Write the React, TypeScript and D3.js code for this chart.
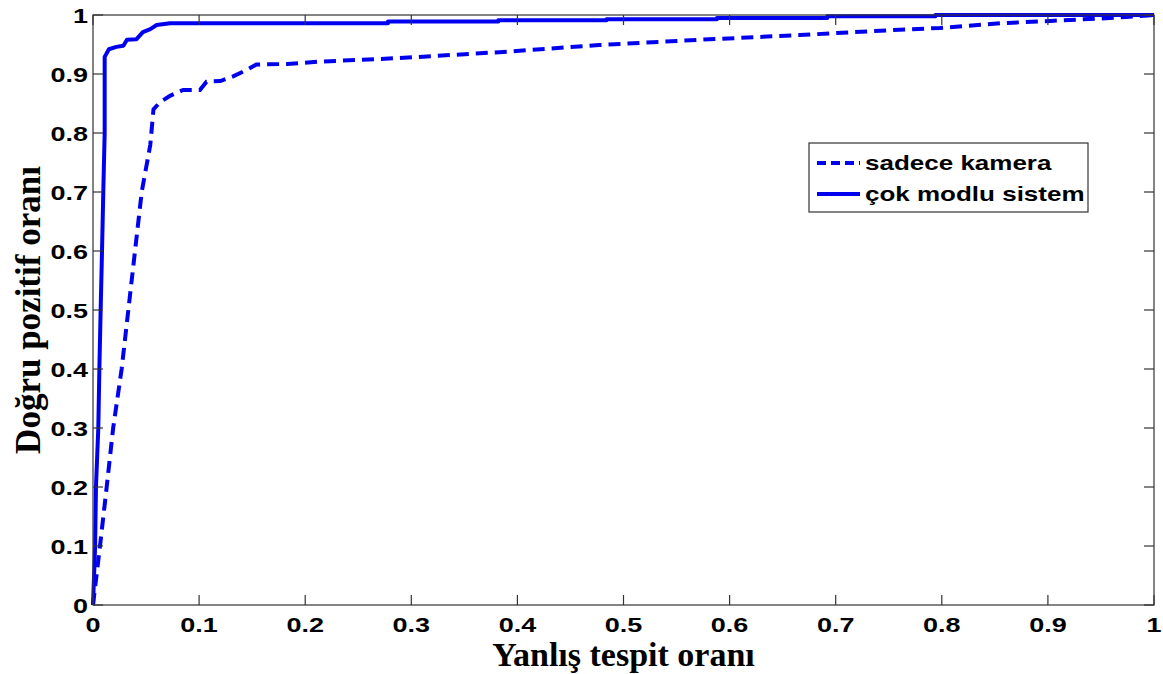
import React from "react";
import * as d3 from "d3";

// ROC curves: false positive rate (x) vs true positive rate (y)
const cameraOnlyFpr = [0, 0.0066, 0.0129, 0.019, 0.027, 0.0333, 0.0396, 0.0459, 0.052, 0.054, 0.057, 0.063, 0.0726, 0.085, 0.1008, 0.107, 0.12, 0.132, 0.145, 0.154, 0.183, 0.214, 0.289, 0.336, 0.383, 0.477, 0.572, 0.666, 0.76, 0.798, 0.855, 0.902, 0.949, 0.977, 1];
const cameraOnlyTpr = [0, 0.1, 0.2, 0.3, 0.4, 0.5, 0.6, 0.7, 0.76, 0.78, 0.84, 0.852, 0.863, 0.873, 0.873, 0.887, 0.888, 0.896, 0.907, 0.916, 0.917, 0.921, 0.927, 0.932, 0.937, 0.949, 0.958, 0.966, 0.975, 0.978, 0.986, 0.99, 0.994, 0.997, 1];

const multiModalFpr = [0, 0.001, 0.002, 0.0028, 0.005, 0.006, 0.0072, 0.0085, 0.0097, 0.011, 0.011, 0.015, 0.022, 0.0286, 0.032, 0.041, 0.047, 0.054, 0.06, 0.0726, 0.278, 0.278, 0.382, 0.382, 0.484, 0.484, 0.588, 0.588, 0.692, 0.692, 0.794, 0.794, 1];
const multiModalTpr = [0, 0.05, 0.1, 0.2, 0.3, 0.4, 0.5, 0.6, 0.7, 0.8, 0.929, 0.942, 0.946, 0.948, 0.958, 0.959, 0.971, 0.976, 0.983, 0.986, 0.986, 0.989, 0.989, 0.991, 0.991, 0.993, 0.993, 0.995, 0.995, 0.998, 0.998, 1, 1];

const tickValues = [0, 0.1, 0.2, 0.3, 0.4, 0.5, 0.6, 0.7, 0.8, 0.9, 1];

const legendLabels = ["sadece kamera", "çok modlu sistem"];
const xTitle = "Yanlış tespit oranı";
const yTitle = "Doğru pozitif oranı";

const W = 1163;
const H = 674;
const left = 93;
const right = 1154;
const top = 15;
const bottom = 605;
const blue = "#0000f0";
const axisColor = "#333";
const tickFont = "'Liberation Sans', Arial, sans-serif";
const titleFont = "'Liberation Serif', 'Times New Roman', serif";
const wide = 1.35; // horizontal stretch of the sans-serif labels

export default function App() {
  const x = d3.scaleLinear().domain([0, 1]).range([left, right]);
  const y = d3.scaleLinear().domain([0, 1]).range([bottom, top]);

  const line = d3
    .line<[number, number]>()
    .x((d) => x(d[0]))
    .y((d) => y(d[1]));

  const cameraPts = cameraOnlyFpr.map((v, i) => [v, cameraOnlyTpr[i]] as [number, number]);
  const multiPts = multiModalFpr.map((v, i) => [v, multiModalTpr[i]] as [number, number]);

  const tickLen = 10;
  const fmt = d3.format("");

  return (
    <svg
      width={W}
      height={H}
      style={{ position: "absolute", left: 0, top: 0, background: "#fff" }}
    >
      <rect x={0} y={0} width={W} height={H} fill="#fff" />

      {/* curves */}
      <path d={line(cameraPts) || ""} fill="none" stroke={blue} strokeWidth={4} strokeDasharray="12 7" />
      <path d={line(multiPts) || ""} fill="none" stroke={blue} strokeWidth={4} strokeLinejoin="round" />

      {/* axes box */}
      <rect x={left} y={top} width={right - left} height={bottom - top} fill="none" stroke={axisColor} strokeWidth={1.2} />

      {tickValues.map((t) => (
        <g key={"x" + t}>
          <line x1={x(t)} x2={x(t)} y1={bottom} y2={bottom - tickLen} stroke={axisColor} strokeWidth={1.2} />
          <line x1={x(t)} x2={x(t)} y1={top} y2={top + tickLen} stroke={axisColor} strokeWidth={1.2} />
          <text
            transform={`translate(${x(t)}, ${bottom + 27}) scale(${wide}, 1)`}
            textAnchor="middle"
            fontFamily={tickFont}
            fontWeight="bold"
            fontSize={20}
            fill="#000"
          >
            {fmt(t)}
          </text>
        </g>
      ))}

      {tickValues.map((t) => (
        <g key={"y" + t}>
          <line x1={left} x2={left + tickLen} y1={y(t)} y2={y(t)} stroke={axisColor} strokeWidth={1.2} />
          <line x1={right} x2={right - tickLen} y1={y(t)} y2={y(t)} stroke={axisColor} strokeWidth={1.2} />
          <text
            transform={`translate(${left - 5}, ${y(t) + 7.5}) scale(${wide}, 1)`}
            textAnchor="end"
            fontFamily={tickFont}
            fontWeight="bold"
            fontSize={20}
            fill="#000"
          >
            {fmt(t)}
          </text>
        </g>
      ))}

      {/* axis titles */}
      <text
        x={(left + right) / 2}
        y={666}
        textAnchor="middle"
        fontFamily={titleFont}
        fontWeight="bold"
        fontSize={34}
        fill="#000"
      >
        {xTitle}
      </text>
      <text
        transform={`translate(40, ${(top + bottom) / 2}) rotate(-90)`}
        textAnchor="middle"
        fontFamily={titleFont}
        fontWeight="bold"
        fontSize={35}
        fill="#000"
      >
        {yTitle}
      </text>

      {/* legend */}
      <g transform="translate(809, 143)">
        <rect x={0} y={0} width={279} height={69} fill="#fff" stroke={axisColor} strokeWidth={1.2} />
        <line x1={8} x2={51} y1={20} y2={20} stroke={blue} strokeWidth={4} strokeDasharray="9 5" />
        <line x1={8} x2={51} y1={51} y2={51} stroke={blue} strokeWidth={4} />
        <text
          transform={`translate(56, 27) scale(1.3, 1)`}
          fontFamily={tickFont}
          fontWeight="bold"
          fontSize={20}
          fill="#000"
        >
          {legendLabels[0]}
        </text>
        <text
          transform={`translate(56, 58) scale(1.3, 1)`}
          fontFamily={tickFont}
          fontWeight="bold"
          fontSize={20}
          fill="#000"
        >
          {legendLabels[1]}
        </text>
      </g>
    </svg>
  );
}
